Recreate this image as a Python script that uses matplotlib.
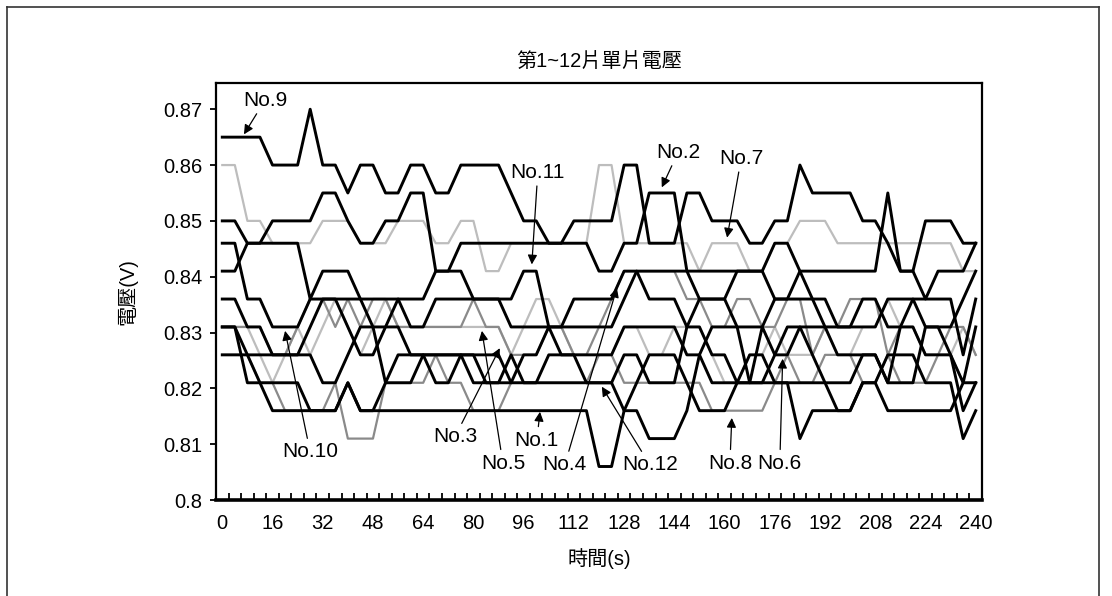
import matplotlib
matplotlib.use('Agg')
import matplotlib.pyplot as plt
from matplotlib.lines import Line2D

plt.rcParams['font.family'] = ['Liberation Sans', 'Noto Sans CJK TC', 'DejaVu Sans']

time_s = list(range(0, 241, 4))

no9 = [.865,.865,.865,.865,.860,.860,.860,.870,.860,.860,.855,.860,.860,.855,.855,.860,.860,.855,.855,.860,
       .860,.860,.860,.855,.850,.850,.846,.846,.850,.850,.850,.850,.860,.860,.846,.846,.846,.855,.855,.850,
       .850,.850,.846,.846,.850,.850,.860,.855,.855,.855,.855,.850,.850,.846,.841,.841,.850,.850,.850,.846,.846]
no7 = [.860,.860,.850,.850,.846,.846,.846,.846,.850,.850,.850,.846,.846,.846,.850,.850,.850,.846,.846,.850,
       .850,.841,.841,.846,.846,.846,.846,.846,.846,.846,.860,.860,.846,.846,.846,.846,.846,.846,.841,.846,
       .846,.846,.841,.841,.846,.846,.850,.850,.850,.846,.846,.846,.846,.846,.846,.846,.846,.846,.846,.841,.841]
no2 = [.850,.850,.846,.846,.850,.850,.850,.850,.855,.855,.850,.846,.846,.850,.850,.855,.855,.841,.841,.846,
       .846,.846,.846,.846,.846,.846,.846,.846,.846,.846,.841,.841,.846,.846,.855,.855,.855,.841,.836,.836,
       .836,.841,.841,.841,.846,.846,.841,.841,.841,.841,.841,.841,.841,.855,.841,.841,.836,.841,.841,.841,.846]
no11 = [.841,.841,.846,.846,.846,.846,.846,.836,.841,.841,.841,.836,.831,.831,.836,.836,.836,.841,.841,.841,
        .836,.836,.836,.836,.841,.841,.831,.831,.836,.836,.836,.836,.841,.841,.836,.836,.836,.831,.836,.836,
        .836,.831,.831,.831,.836,.836,.841,.836,.836,.831,.831,.836,.836,.831,.831,.836,.831,.831,.831,.836,.841]
no10 = [.846,.846,.836,.836,.831,.831,.831,.836,.836,.836,.836,.836,.836,.836,.836,.831,.831,.836,.836,.836,
        .836,.836,.836,.831,.831,.831,.831,.831,.831,.831,.831,.831,.836,.841,.841,.841,.841,.841,.841,.841,
        .841,.841,.841,.841,.836,.836,.836,.836,.831,.831,.831,.831,.831,.836,.836,.836,.836,.836,.836,.826,.836]
no3 = [.836,.836,.831,.831,.826,.826,.826,.831,.836,.836,.831,.826,.826,.831,.831,.826,.826,.821,.821,.826,
       .826,.826,.826,.821,.826,.826,.831,.826,.826,.821,.821,.821,.826,.826,.821,.821,.821,.831,.831,.826,
       .826,.821,.821,.821,.826,.831,.831,.826,.821,.821,.821,.826,.826,.821,.821,.821,.831,.831,.826,.816,.821]
no12 = [.826,.826,.826,.826,.826,.826,.826,.826,.821,.821,.826,.831,.831,.821,.821,.821,.826,.826,.826,.826,
        .821,.821,.821,.821,.821,.821,.821,.821,.821,.821,.821,.821,.816,.816,.811,.811,.811,.816,.826,.831,
        .831,.831,.821,.821,.821,.821,.821,.821,.821,.816,.816,.821,.821,.816,.816,.816,.816,.816,.816,.821,.821]
no6 = [.831,.831,.821,.821,.821,.821,.821,.816,.816,.816,.821,.816,.816,.821,.826,.826,.826,.826,.826,.826,
       .826,.821,.821,.826,.821,.821,.826,.826,.826,.826,.826,.826,.831,.831,.831,.831,.831,.826,.826,.821,
       .821,.821,.821,.831,.826,.826,.831,.831,.831,.826,.826,.826,.826,.821,.831,.831,.826,.826,.826,.821,.831]
no1 = [.831,.831,.826,.821,.816,.816,.816,.816,.816,.816,.821,.816,.816,.816,.816,.816,.816,.816,.816,.816,
       .816,.816,.816,.816,.816,.816,.816,.816,.816,.816,.806,.806,.816,.821,.826,.826,.826,.821,.816,.816,
       .816,.821,.826,.826,.821,.821,.811,.816,.816,.816,.816,.821,.821,.826,.826,.826,.821,.821,.821,.811,.816]
no4 = [.831,.831,.831,.831,.826,.826,.831,.836,.836,.831,.836,.831,.836,.836,.831,.831,.831,.831,.831,.831,
       .836,.831,.831,.826,.826,.826,.831,.831,.826,.826,.831,.836,.841,.841,.841,.841,.841,.836,.836,.831,
       .831,.836,.836,.831,.831,.836,.836,.826,.831,.831,.836,.836,.836,.826,.831,.831,.826,.826,.831,.831,.826]
no5 = [.831,.831,.831,.826,.821,.826,.831,.826,.831,.836,.831,.826,.831,.836,.831,.831,.831,.831,.831,.831,
       .831,.831,.831,.826,.831,.836,.836,.831,.826,.826,.826,.826,.831,.831,.826,.826,.831,.831,.831,.826,
       .821,.821,.826,.826,.831,.826,.826,.826,.831,.826,.826,.831,.831,.836,.831,.831,.826,.826,.826,.831,.826]
no8 = [.826,.826,.826,.821,.821,.816,.816,.816,.816,.821,.811,.811,.811,.821,.821,.821,.821,.826,.821,.821,
       .816,.816,.816,.821,.821,.821,.821,.821,.821,.821,.826,.826,.821,.821,.821,.821,.821,.821,.821,.816,
       .816,.816,.816,.816,.821,.826,.821,.821,.826,.826,.826,.821,.821,.826,.821,.821,.821,.826,.826,.821,.821]

series_light = [no7, no5]
series_medium = [no4, no8]
series_black = [no3, no12, no6, no1, no10, no11, no2, no9]

y_ticks = [0.80, 0.81, 0.82, 0.83, 0.84, 0.85, 0.86, 0.87]
y_ticklabels = ['0.8', '0.81', '0.82', '0.83', '0.84', '0.85', '0.86', '0.87']
x_ticks = list(range(0, 241, 16))
x_minor = list(range(2, 240, 4))

# label text, text position (s, V), arrow tip (s, V)
labels = [
    ('No.9', (13.6, 0.8716), (6.9, 0.8655)),
    ('No.11', (100.5, 0.8587), (98.6, 0.8422)),
    ('No.2', (145.2, 0.8623), (140.0, 0.8560)),
    ('No.7', (165.3, 0.8612), (160.8, 0.8470)),
    ('No.10', (28.0, 0.8086), (20.0, 0.8303)),
    ('No.3', (74.1, 0.8113), (88.4, 0.8272)),
    ('No.5', (89.4, 0.8066), (82.7, 0.8303)),
    ('No.1', (100.2, 0.8107), (101.2, 0.8158)),
    ('No.4', (109.1, 0.8063), (125.7, 0.8380)),
    ('No.12', (136.2, 0.8063), (120.9, 0.8203)),
    ('No.8', (161.7, 0.8066), (162.3, 0.8147)),
    ('No.6', (177.6, 0.8066), (178.5, 0.8253)),
]

fig = plt.figure(figsize=(11.12, 5.96), dpi=100)
ax = fig.add_axes([216/1112, 1-500/596, (982-216)/1112, (500-83)/596])

for s in series_light:
    ax.plot(time_s, s, color='#bdbdbd', lw=1.6, zorder=2)
for s in series_medium:
    ax.plot(time_s, s, color='#8a8a8a', lw=1.6, zorder=3)
for s in series_black:
    ax.plot(time_s, s, color='black', lw=2.1, zorder=4)

ax.set_xlim(-2, 242)
ax.set_ylim(0.80, 0.8747)
ax.set_yticks(y_ticks)
ax.set_yticklabels(y_ticklabels)
ax.set_xticks(x_ticks)
ax.set_xticks(x_minor, minor=True)
ax.tick_params(axis='x', which='major', length=0, pad=10, labelsize=14.5)
ax.tick_params(axis='x', which='minor', direction='in', length=5, width=1.3)
ax.tick_params(axis='y', which='major', direction='out', length=4, width=1.3, pad=6, labelsize=14.5)
for sp in ax.spines.values():
    sp.set_linewidth(1.6)
ax.spines['bottom'].set_linewidth(2.6)

for text, xy_text, xy_tip in labels:
    ax.annotate(text, xy=xy_tip, xytext=xy_text, ha='center', va='center', fontsize=15,
                arrowprops=dict(arrowstyle='-|>', color='black', lw=0.9, mutation_scale=14,
                                shrinkA=1, shrinkB=0), zorder=6)

ax.set_title('第1~12片單片電壓', fontsize=14.5, pad=11)
ax.set_xlabel('時間(s)', fontsize=14.5, labelpad=11)
ax.set_ylabel('電壓(V)', fontsize=14.5, labelpad=18)

for xs, ys in [([7/1112, 7/1112], [0, 1-7/596]),
               ([7/1112, 1099/1112], [1-7/596, 1-7/596]),
               ([1099/1112, 1099/1112], [1-7/596, 0])]:
    fig.add_artist(Line2D(xs, ys, transform=fig.transFigure, color='#333333', lw=1.2))

fig.savefig('out.png', dpi=100, facecolor='white')
